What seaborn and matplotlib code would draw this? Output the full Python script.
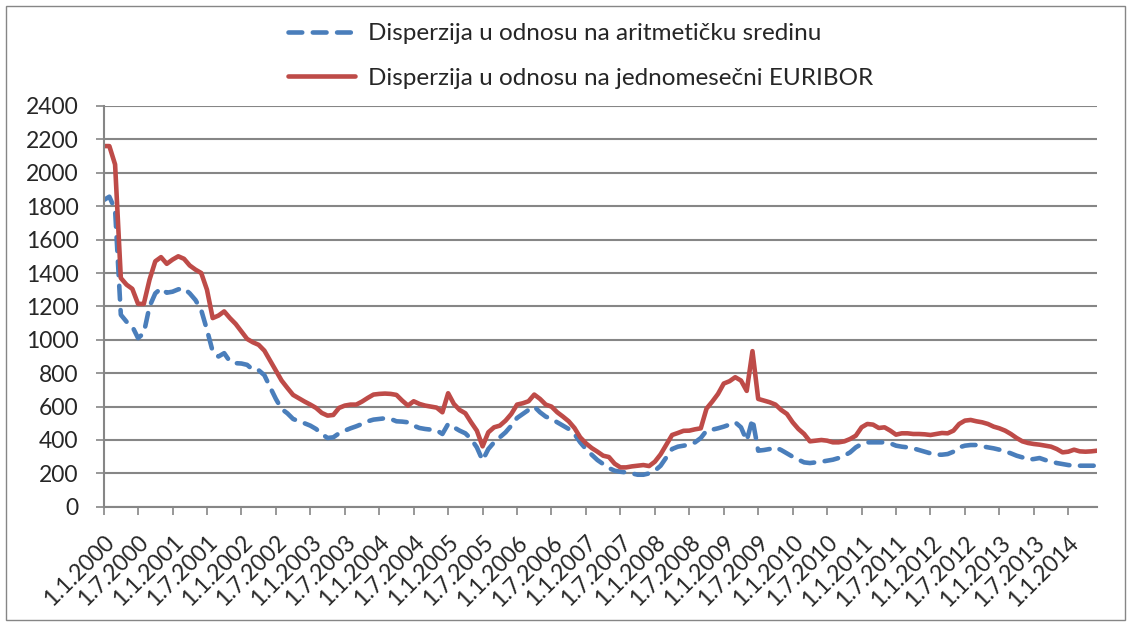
import numpy as np
import pandas as pd
import matplotlib
matplotlib.use("Agg")
import matplotlib.pyplot as plt
import seaborn as sns
from matplotlib.patches import Rectangle

# Monthly dispersion, January 2000 - June 2014
mean_disp = [
    1836, 1857, 1780, 1150, 1108, 1080, 1010, 1040, 1200, 1278, 1308, 1282,
    1288, 1302, 1308, 1278, 1238, 1178, 1060, 930, 900, 920, 870, 860,
    858, 850, 820, 818, 788, 716, 646, 586, 560, 526, 512, 500,
    486, 466, 436, 412, 416, 440, 456, 470, 482, 496, 512, 522,
    526, 530, 526, 512, 510, 506, 486, 472, 466, 462, 458, 436,
    496, 476, 456, 440, 406, 356, 278, 346, 386, 416, 446, 486,
    532, 556, 580, 600, 566, 540, 526, 506, 486, 466, 436, 386,
    346, 312, 280, 256, 232, 216, 210, 206, 200, 192, 192, 200,
    216, 246, 296, 346, 360, 366, 372, 386, 412, 456, 462, 470,
    480, 492, 506, 476, 396, 526, 336, 340, 346, 356, 340, 320,
    300, 282, 266, 262, 266, 270, 276, 282, 292, 306, 326, 356,
    376, 386, 386, 386, 386, 380, 366, 360, 356, 350, 340, 330,
    320, 312, 312, 316, 330, 356, 366, 370, 370, 362, 356, 350,
    342, 332, 320, 306, 296, 282, 286, 292, 280, 272, 262, 256,
    250, 246, 246, 246, 246, 246,
]
euribor_disp = [
    2160, 2160, 2050, 1370, 1330, 1305, 1215, 1215, 1360, 1470, 1495, 1455,
    1480, 1500, 1485, 1445, 1420, 1400, 1300, 1130, 1145, 1170, 1130, 1095,
    1050, 1005, 985, 970, 935, 875, 816, 756, 712, 670, 650, 630,
    612, 592, 562, 546, 550, 592, 606, 612, 612, 630, 652, 672,
    676, 678, 676, 670, 636, 606, 632, 616, 606, 600, 594, 566,
    680, 616, 580, 560, 506, 456, 362, 446, 476, 486, 516, 556,
    612, 620, 632, 672, 646, 612, 600, 566, 540, 512, 472, 416,
    380, 352, 330, 306, 298, 258, 236, 236, 242, 246, 250, 244,
    270, 314, 372, 430, 442, 455, 456, 464, 470, 588, 630, 676,
    738, 752, 776, 756, 694, 932, 646, 636, 626, 612, 580, 556,
    506, 466, 436, 392, 396, 400, 396, 386, 386, 392, 406, 426,
    476, 496, 492, 472, 476, 456, 432, 440, 440, 436, 436, 434,
    430, 436, 442, 440, 456, 496, 516, 520, 512, 506, 496, 480,
    470, 456, 436, 412, 392, 382, 376, 372, 366, 360, 346, 326,
    330, 342, 332, 330, 332, 336,
]
tick_labels = [f"1.{m}.{y}" for y in range(2000, 2015) for m in (1, 7)][:29]
series_names = [
    "Disperzija u odnosu na aritmetičku sredinu",
    "Disperzija u odnosu na jednomesečni EURIBOR",
]

sns.set_theme(style="white")
plt.rcParams["font.family"] = ["Lato", "DejaVu Sans"]

blue = "#4A7EBB"
red = "#BE4B48"
grid_gray = "#868686"

months = np.arange(len(mean_disp))
df = pd.DataFrame({"month": months, "mean": mean_disp, "euribor": euribor_disp})

fig = plt.figure(figsize=(11.31, 6.26), dpi=100)
ax = fig.add_axes([103.6 / 1131, 1 - 506.8 / 626, (1097 - 103.6) / 1131, (506.8 - 106) / 626])

sns.lineplot(data=df, x="month", y="mean", ax=ax, color=blue, linewidth=3.3,
             label=series_names[0])
sns.lineplot(data=df, x="month", y="euribor", ax=ax, color=red, linewidth=3.3,
             label=series_names[1])
ln_blue, ln_red = ax.get_lines()[:2]
ln_blue.set_dashes((3.0, 2.3))
ln_blue.set_dash_capstyle("round")
ln_red.set_solid_capstyle("round")
ln_red.set_solid_joinstyle("round")

ax.set_xlim(0, len(mean_disp) - 1)
ax.set_ylim(0, 2400)
ax.set_yticks(np.arange(0, 2401, 200))
ax.set_xticks(np.arange(0, 6 * len(tick_labels), 6))
ax.set_xticklabels(tick_labels, rotation=45, ha="right", va="top",
                   rotation_mode="anchor", fontsize=16.5)
ax.tick_params(axis="y", labelsize=16.5, length=6, width=1.2, color=grid_gray,
               direction="out", left=True, pad=12)
ax.tick_params(axis="x", length=6, width=1.2, color=grid_gray,
               direction="out", bottom=True, pad=12)
ax.set_xlabel("")
ax.set_ylabel("")
ax.yaxis.grid(True, color=grid_gray, linewidth=1.5)
ax.set_axisbelow(True)
for side in ("top", "right"):
    ax.spines[side].set_visible(False)
for side in ("left", "bottom"):
    ax.spines[side].set_color(grid_gray)
    ax.spines[side].set_linewidth(1.5)

ax.get_legend().remove()
fig.legend(handles=[ln_blue, ln_red], labels=series_names, loc="upper left",
           bbox_to_anchor=(288 / 1131, 1 - 23 / 626), frameon=False,
           fontsize=17.5, handlelength=2.75, handletextpad=0.55,
           labelspacing=0.98, borderpad=0, borderaxespad=0)

fig.patches.append(Rectangle((6 / 1131, 1 - 620 / 626), 1119 / 1131, 614 / 626,
                             transform=fig.transFigure, fill=False,
                             edgecolor=grid_gray, linewidth=1.0))

fig.savefig("out.png", dpi=100, facecolor="white")
